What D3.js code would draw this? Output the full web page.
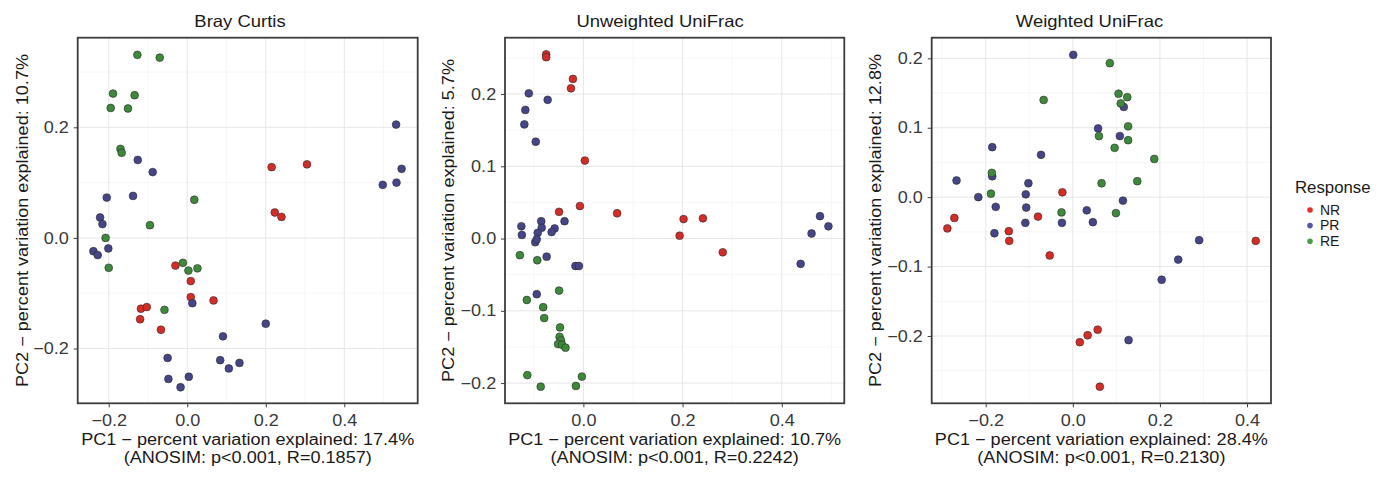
<!DOCTYPE html>
<html>
<head>
<meta charset="utf-8">
<script src="https://cdn.jsdelivr.net/npm/d3@7"></script>
<style>
  html, body { margin: 0; padding: 0; background: #fff; }
  svg { display: block; font-family: "Liberation Sans", Arial, sans-serif; }
</style>
</head>
<body>
<svg id="chart" width="1379" height="478"></svg>
<script>
// ---------------- DATA ----------------
const groups = ["NR", "PR", "RE"];
const groupColors = ["#d92b25", "#45458a", "#3d8a3b"];
const legendColors = ["#e8302a", "#5656a6", "#47a047"];

const panelTitles = ["Bray Curtis", "Unweighted UniFrac", "Weighted UniFrac"];
const xTitles = ["PC1 \u2212 percent variation explained: 17.4%",
                 "PC1 \u2212 percent variation explained: 10.7%",
                 "PC1 \u2212 percent variation explained: 28.4%"];
const anosimLines = ["(ANOSIM: p<0.001, R=0.1857)",
                     "(ANOSIM: p<0.001, R=0.2242)",
                     "(ANOSIM: p<0.001, R=0.2130)"];
const yTitles = ["PC2 \u2212 percent variation explained: 10.7%",
                 "PC2 \u2212 percent variation explained: 5.7%",
                 "PC2 \u2212 percent variation explained: 12.8%"];

// tick values
const brayXTicks = [-0.2, 0.0, 0.2, 0.4];
const brayYTicks = [-0.2, 0.0, 0.2];
const uniXTicks = [0.0, 0.2, 0.4];
const uniYTicks = [-0.2, -0.1, 0.0, 0.1, 0.2];
const wuXTicks = [-0.2, 0.0, 0.2, 0.4];
const wuYTicks = [-0.2, -0.1, 0.0, 0.1, 0.2];

// Bray Curtis [PC1, PC2]
const brayNR = [[0.215,0.128],[0.305,0.133],[0.223,0.046],[0.240,0.038],[-0.030,-0.050],[0.009,-0.078],[0.009,-0.107],[0.067,-0.113],[-0.118,-0.128],[-0.103,-0.125],[-0.120,-0.147],[-0.067,-0.166]];
const brayPR = [[0.532,0.205],[-0.126,0.141],[-0.088,0.119],[0.546,0.125],[0.498,0.096],[0.533,0.100],[-0.205,0.073],[-0.138,0.076],[-0.222,0.037],[-0.216,0.025],[-0.239,-0.024],[-0.228,-0.031],[-0.201,-0.019],[0.013,-0.118],[0.200,-0.155],[0.091,-0.178],[-0.050,-0.217],[0.084,-0.221],[0.133,-0.226],[0.106,-0.236],[-0.048,-0.255],[0.004,-0.251],[-0.017,-0.270]];
const brayRE = [[-0.127,0.331],[-0.070,0.326],[-0.189,0.261],[-0.134,0.258],[-0.195,0.235],[-0.151,0.234],[-0.170,0.161],[-0.167,0.154],[0.018,0.069],[-0.095,0.023],[-0.208,0.0],[-0.200,-0.054],[-0.011,-0.045],[0.003,-0.059],[0.026,-0.055],[-0.058,-0.130]];

// Unweighted UniFrac
const uniNR = [[-0.075,0.255],[-0.075,0.251],[-0.021,0.221],[-0.025,0.208],[0.003,0.108],[-0.049,0.037],[-0.007,0.045],[0.068,0.035],[0.202,0.027],[0.241,0.028],[0.194,0.004],[0.281,-0.019]];
const uniPR = [[-0.110,0.201],[-0.072,0.192],[-0.117,0.178],[-0.119,0.158],[-0.096,0.134],[-0.125,0.017],[-0.124,0.005],[-0.085,0.024],[-0.084,0.015],[-0.092,0.008],[-0.058,0.014],[-0.064,0.009],[-0.038,0.024],[0.477,0.031],[0.494,0.017],[0.460,0.007],[-0.097,-0.005],[-0.094,-0.001],[-0.074,-0.025],[-0.016,-0.038],[-0.009,-0.038],[-0.094,-0.077],[0.438,-0.035]];
const uniRE = [[-0.128,-0.023],[-0.093,-0.030],[-0.049,-0.072],[-0.114,-0.085],[-0.081,-0.095],[-0.079,-0.110],[-0.047,-0.123],[-0.048,-0.136],[-0.045,-0.141],[-0.051,-0.146],[-0.043,-0.147],[-0.036,-0.151],[-0.113,-0.189],[-0.086,-0.205],[-0.015,-0.204],[-0.003,-0.191]];

// Weighted UniFrac
const wuNR = [[-0.024,0.007],[-0.272,-0.030],[-0.080,-0.028],[-0.288,-0.045],[-0.147,-0.049],[-0.146,-0.063],[-0.053,-0.084],[0.420,-0.063],[0.057,-0.191],[0.034,-0.199],[0.016,-0.209],[0.062,-0.273]];
const wuPR = [[0.001,0.205],[0.117,0.130],[0.058,0.099],[0.108,0.088],[-0.185,0.072],[-0.073,0.061],[-0.267,0.024],[-0.185,0.030],[-0.102,0.020],[-0.217,0.000],[-0.108,0.004],[0.115,-0.005],[-0.177,-0.014],[-0.107,-0.015],[0.032,-0.019],[-0.109,-0.037],[-0.025,-0.037],[0.046,-0.036],[-0.180,-0.052],[0.290,-0.062],[0.242,-0.090],[0.204,-0.119],[0.128,-0.206]];
const wuRE = [[0.085,0.193],[0.105,0.149],[0.125,0.144],[0.110,0.135],[-0.067,0.140],[0.127,0.102],[0.060,0.088],[0.127,0.082],[0.096,0.071],[0.187,0.055],[-0.186,0.035],[-0.188,0.005],[0.066,0.020],[0.148,0.023],[-0.026,-0.022],[0.099,-0.023]];

// axis limits
const brayXDomain = [-0.279, 0.587], brayYDomain = [-0.299, 0.362];
const uniXDomain = [-0.158, 0.526], uniYDomain = [-0.228, 0.278];
const wuXDomain = [-0.324, 0.455], wuYDomain = [-0.297, 0.2297];

// ---------------- LAYOUT ----------------
const panels = [
  { left: 77.7, right: 417.7, xd: brayXDomain, yd: brayYDomain, xt: brayXTicks, yt: brayYTicks,
    sets: [brayNR, brayPR, brayRE], titleX: 240, yTitleX: 27.5 },
  { left: 505, right: 844.3, xd: uniXDomain, yd: uniYDomain, xt: uniXTicks, yt: uniYTicks,
    sets: [uniNR, uniPR, uniRE], titleX: 660, yTitleX: 454 },
  { left: 931.7, right: 1271, xd: wuXDomain, yd: wuYDomain, xt: wuXTicks, yt: wuYTicks,
    sets: [wuNR, wuPR, wuRE], titleX: 1089.5, yTitleX: 880.5 }
];
const plotTop = 37.7, plotBottom = 403.3;
const FS = 16, SX = 1.13;

const svg = d3.select("#chart");

function addText(x, y, txt, opts = {}) {
  const rot = opts.rotate ? ` rotate(${opts.rotate})` : "";
  const sx = opts.sx == null ? SX : opts.sx;
  return svg.append("text")
    .attr("transform", `translate(${x},${y})${rot} scale(${sx},1)`)
    .attr("text-anchor", opts.anchor || "middle")
    .attr("font-size", opts.size || FS)
    .attr("fill", opts.fill || "#1a1a1a")
    .text(txt);
}

panels.forEach((p, i) => {
  const x = d3.scaleLinear().domain(p.xd).range([p.left, p.right]);
  const y = d3.scaleLinear().domain(p.yd).range([plotBottom, plotTop]);
  const g = svg.append("g");

  g.append("rect").attr("x", p.left).attr("y", plotTop)
    .attr("width", p.right - p.left).attr("height", plotBottom - plotTop).attr("fill", "#fff");

  // minor grid (midpoints between major ticks)
  const step = p.xt[1] - p.xt[0];
  const ystep = p.yt[1] - p.yt[0];
  const xMinor = d3.range(Math.ceil(p.xd[0] / (step / 2)), Math.floor(p.xd[1] / (step / 2)) + 1)
    .map(k => k * step / 2).filter(v => Math.abs(Math.round(v / step) * step - v) > 1e-9);
  const yMinor = d3.range(Math.ceil(p.yd[0] / (ystep / 2)), Math.floor(p.yd[1] / (ystep / 2)) + 1)
    .map(k => k * ystep / 2).filter(v => Math.abs(Math.round(v / ystep) * ystep - v) > 1e-9);

  g.selectAll(".xminor").data(xMinor).join("line")
    .attr("x1", d => x(d)).attr("x2", d => x(d)).attr("y1", plotTop).attr("y2", plotBottom)
    .attr("stroke", "#f4f4f4").attr("stroke-width", 0.8);
  g.selectAll(".yminor").data(yMinor).join("line")
    .attr("y1", d => y(d)).attr("y2", d => y(d)).attr("x1", p.left).attr("x2", p.right)
    .attr("stroke", "#f4f4f4").attr("stroke-width", 0.8);
  g.selectAll(".xmajor").data(p.xt).join("line")
    .attr("x1", d => x(d)).attr("x2", d => x(d)).attr("y1", plotTop).attr("y2", plotBottom)
    .attr("stroke", "#e6e6e6").attr("stroke-width", 1);
  g.selectAll(".ymajor").data(p.yt).join("line")
    .attr("y1", d => y(d)).attr("y2", d => y(d)).attr("x1", p.left).attr("x2", p.right)
    .attr("stroke", "#e6e6e6").attr("stroke-width", 1);

  // points
  p.sets.forEach((set, gi) => {
    g.selectAll(null).data(set).join("circle")
      .attr("cx", d => x(d[0])).attr("cy", d => y(d[1])).attr("r", 3.9)
      .attr("fill", groupColors[gi]).attr("stroke", "#2b2b2b").attr("stroke-width", 0.6);
  });

  // border
  g.append("rect").attr("x", p.left).attr("y", plotTop)
    .attr("width", p.right - p.left).attr("height", plotBottom - plotTop)
    .attr("fill", "none").attr("stroke", "#3d3d3d").attr("stroke-width", 1.8);

  // axes
  const fmt = d3.format(".1f");
  const xa = svg.append("g").attr("transform", `translate(0,${plotBottom})`)
    .call(d3.axisBottom(x).tickValues(p.xt).tickFormat(fmt).tickSize(4).tickPadding(7.8));
  const ya = svg.append("g").attr("transform", `translate(${p.left},0)`)
    .call(d3.axisLeft(y).tickValues(p.yt).tickFormat(fmt).tickSize(4).tickPadding(3.8));
  [xa, ya].forEach(a => {
    a.select(".domain").remove();
    a.selectAll(".tick line").attr("stroke", "#3d3d3d").attr("stroke-width", 1);
    a.selectAll(".tick text").attr("font-size", FS).attr("fill", "#3a3a3a")
      .attr("font-family", "Liberation Sans, Arial, sans-serif")
      .attr("transform", `scale(${SX},1)`);
  });

  // titles
  const cx = (p.left + p.right) / 2;
  addText(p.titleX, 27.3, panelTitles[i], { size: 16.5, sx: 1.12 });
  addText(cx, 445.3, xTitles[i]);
  addText(cx, 463.3, anosimLines[i]);
  addText(p.yTitleX, (plotTop + plotBottom) / 2, yTitles[i], { rotate: -90 });
});

// legend
addText(1295, 193, "Response", { anchor: "start", size: 16, sx: 1.05 });
groups.forEach((gname, i) => {
  const cy = 210 + i * 15.6;
  svg.append("circle").attr("cx", 1310).attr("cy", cy).attr("r", 2.8).attr("fill", legendColors[i]);
  addText(1320, cy + 4.8, gname, { anchor: "start", size: 14, sx: 1.0 });
});
</script>
</body>
</html>
